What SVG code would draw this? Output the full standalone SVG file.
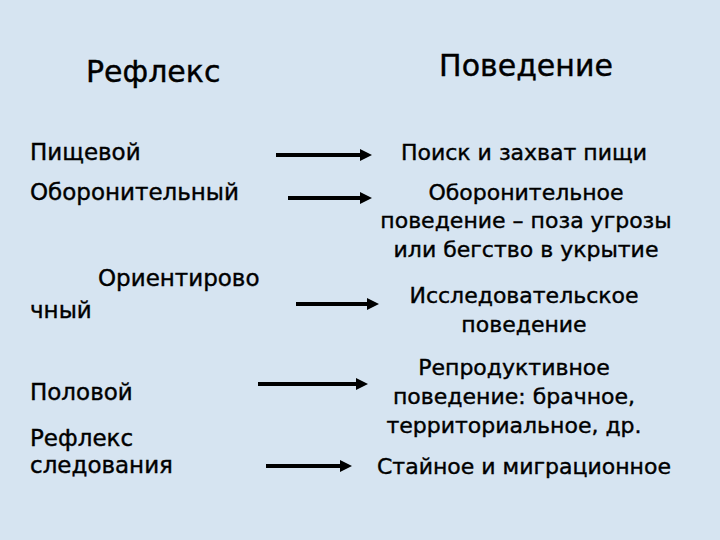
<svg xmlns="http://www.w3.org/2000/svg" width="720" height="540" viewBox="0 0 720 540">
<style>
text{font-family:"DejaVu Sans",Verdana,sans-serif;fill:#000;stroke:#000;stroke-width:0.4;font-size:22px}
.l{font-size:23px}
.h{font-size:30px}
.c{text-anchor:middle}
.a{stroke:#000;stroke-width:4;marker-end:url(#ar)}
</style>
<defs><marker id="ar" markerWidth="3" markerHeight="3" refX="2" refY="1.5" orient="auto"><path d="M0,0 L3,1.5 L0,3 Z" fill="#000"/></marker></defs>
<rect width="720" height="540" fill="#d6e4f1"/>
<g id="reflex"><text class="h" x="86" y="82">Рефлекс</text></g>
<g id="behavior"><text class="h c" x="526" y="76">Поведение</text></g>
<g id="n1"><text class="l" x="30" y="160">Пищевой</text></g>
<g id="n2"><text class="l" x="30" y="200">Оборонительный</text></g>
<g id="n3"><text class="l" x="98" y="286">Ориентирово</text><text class="l" x="30" y="318">чный</text></g>
<g id="n4"><text class="l" x="30" y="400">Половой</text></g>
<g id="n5"><text class="l" x="30" y="446">Рефлекс</text><text class="l" x="30" y="473">следования</text></g>
<g id="b1"><text class="c" x="524" y="160">Поиск и захват пищи</text></g>
<g id="b2"><text class="c" x="526" y="200">Оборонительное</text><text class="c" x="526" y="228">поведение – поза угрозы</text><text class="c" x="526" y="257">или бегство в укрытие</text></g>
<g id="b3"><text class="c" x="524" y="303">Исследовательское</text><text class="c" x="524" y="332">поведение</text></g>
<g id="b4"><text class="c" x="514" y="375">Репродуктивное</text><text class="c" x="514" y="404">поведение: брачное,</text><text class="c" x="514" y="433">территориальное, др.</text></g>
<g id="b5"><text class="c" x="524" y="474">Стайное и миграционное</text></g>
<g id="connectors">
<line class="a" x1="276" y1="155" x2="368" y2="155"/>
<line class="a" x1="288" y1="198" x2="368" y2="198"/>
<line class="a" x1="296" y1="304" x2="375" y2="304"/>
<line class="a" x1="258" y1="384" x2="364" y2="384"/>
<line class="a" x1="266" y1="466" x2="348" y2="466"/>
</g>
</svg>
